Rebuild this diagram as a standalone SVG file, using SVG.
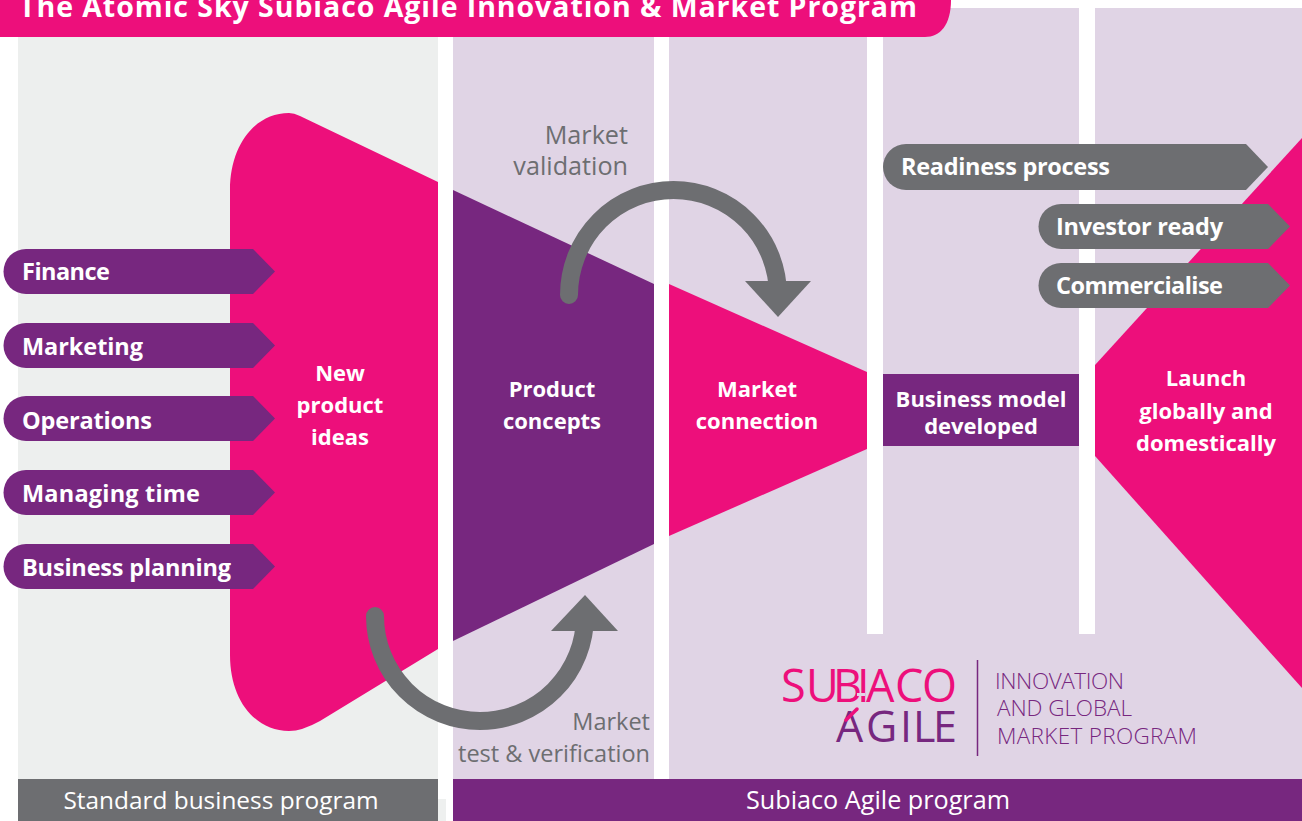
<svg xmlns="http://www.w3.org/2000/svg" width="1302" height="821" viewBox="0 0 1302 821">
<style>
text{font-family:"Open Sans","Noto Sans",sans-serif}
.b{font-weight:700;fill:#fff;font-size:22px;text-anchor:middle}
.p{font-weight:700;fill:#fff;font-size:23.500px}
.g{fill:#6d6e71;text-anchor:end}
.s{fill:#fff;text-anchor:middle}
.l{fill:#77277f;font-size:22.500px;font-weight:300}
.pk{fill:#ed0f7b}.pu{fill:#77277f}.gr{fill:#6d6e71}
</style>
<rect width="1302" height="821" fill="#fff"/>
<g id="backgrounds">
<rect x="18" y="37" width="420" height="742" fill="#edefee"/>
<rect x="453" y="8" width="201" height="771" fill="#e0d4e5"/>
<rect x="669" y="8" width="633" height="771" fill="#e0d4e5"/>
<rect x="867" y="8" width="16" height="626" fill="#fff"/>
<rect x="1079" y="8" width="16" height="626" fill="#fff"/>
<rect x="438" y="799" width="8" height="22" fill="#eef0ef"/>
</g>
<g id="title"><path class="pk" d="M0 0H951C951 25 940 37 925 37H0Z"/><text x="19" y="17" font-size="28.500" font-weight="700" fill="#fff" textLength="898">The Atomic Sky Subiaco Agile Innovation &amp; Market Program</text></g>
<g id="new-product-ideas"><path class="pk" d="M438 182L300 116Q294 113 289 113C255 113 230 145 230 190V655C230 700 255 731 289 731Q302 731 320 721L438 649Z"/><text class="b"><tspan x="340" y="381">New</tspan><tspan x="340" y="413">product</tspan><tspan x="340" y="445">ideas</tspan></text></g>
<g id="product-concepts"><path class="pu" d="M453 190L654 284V544L453 641Z"/><text class="b"><tspan x="552" y="397">Product</tspan><tspan x="552" y="429">concepts</tspan></text></g>
<g id="market-connection"><path class="pk" d="M669 284L867 372V449L669 536Z"/><text class="b"><tspan x="757" y="397">Market</tspan><tspan x="757" y="429">connection</tspan></text></g>
<g id="business-model"><rect class="pu" x="883" y="374" width="196" height="72"/><text class="b"><tspan x="981" y="407">Business model</tspan><tspan x="981" y="434">developed</tspan></text></g>
<g id="launch"><path class="pk" d="M1302 138V688L1095 456V365Z"/><text class="b"><tspan x="1206" y="386">Launch</tspan><tspan x="1206" y="419">globally and</tspan><tspan x="1206" y="451">domestically</tspan></text></g>
<g id="connectors">
<path d="M569 295A104.500 105 0 0 1 778 295" fill="none" stroke="#6d6e71" stroke-width="18" stroke-linecap="round"/>
<path class="gr" d="M745 281H811L778 317Z"/>
<path d="M375 616A105 105 0 0 0 585 616" fill="none" stroke="#6d6e71" stroke-width="18" stroke-linecap="round"/>
<path class="gr" d="M551 631H618L585 595Z"/>
</g>
<g id="finance"><path class="pu" d="M26 249H253L275 271.500L253 294H26A22.500 22.500 0 0 1 26 249Z"/><text class="p" x="22" y="280" textLength="88">Finance</text></g>
<g id="marketing"><path class="pu" d="M26 323H253L275 345.500L253 368H26A22.500 22.500 0 0 1 26 323Z"/><text class="p" x="22" y="355" textLength="121">Marketing</text></g>
<g id="operations"><path class="pu" d="M26 396H253L275 418.500L253 441H26A22.500 22.500 0 0 1 26 396Z"/><text class="p" x="22" y="429" textLength="130">Operations</text></g>
<g id="managing-time"><path class="pu" d="M26 470H253L275 492.500L253 515H26A22.500 22.500 0 0 1 26 470Z"/><text class="p" x="22" y="502" textLength="178">Managing time</text></g>
<g id="business-planning"><path class="pu" d="M26 544H253L275 566.500L253 589H26A22.500 22.500 0 0 1 26 544Z"/><text class="p" x="22" y="576" textLength="209">Business planning</text></g>
<g id="readiness"><path class="gr" d="M906 144H1246L1268 167L1246 190H906A23 23 0 0 1 906 144Z"/><text class="p" x="901" y="175" textLength="209">Readiness process</text></g>
<g id="investor"><path class="gr" d="M1061 204H1268L1290 226.500L1268 249H1061A22.500 22.500 0 0 1 1061 204Z"/><text class="p" x="1056" y="235" textLength="167">Investor ready</text></g>
<g id="commercialise"><path class="gr" d="M1061 263H1268L1290 285.500L1268 308H1061A22.500 22.500 0 0 1 1061 263Z"/><text class="p" x="1056" y="294" textLength="167">Commercialise</text></g>
<g id="labels"><text class="g" font-size="25.200"><tspan x="628" y="144">Market</tspan><tspan x="628" y="175">validation</tspan></text><text class="g" font-size="23.500"><tspan x="650" y="730">Market</tspan><tspan x="650" y="762">test &amp; verification</tspan></text></g>
<g id="standard-bar"><rect class="gr" x="18" y="779" width="420" height="42"/><text class="s" x="221" y="809" font-size="24.400">Standard business program</text></g>
<g id="agile-bar"><rect class="pu" x="453" y="779" width="849" height="42"/><text class="s" x="878" y="809" font-size="25.200">Subiaco Agile program</text></g>
<g id="logo">
<text y="702" font-size="45" font-weight="500" fill="#ed0f7b" x="781 806 833 857 866 895 922">SUBIACO</text>
<rect x="857" y="693" width="8" height="3" fill="#e0d4e5"/>
<text y="742" font-size="43" font-weight="500" fill="#77277f" x="836 866 900 913 933">AGILE</text>
<path d="M846 720L857 709" stroke="#ed0f7b" stroke-width="3.500" stroke-linecap="round"/>
<path d="M977.500 660V756" stroke="#77277f" stroke-width="1.500"/>
<text class="l" x="995" y="689" textLength="129">INNOVATION</text><text class="l" x="997" y="716" textLength="135">AND GLOBAL</text><text class="l" x="997" y="744" textLength="200">MARKET PROGRAM</text>
</g>
</svg>
